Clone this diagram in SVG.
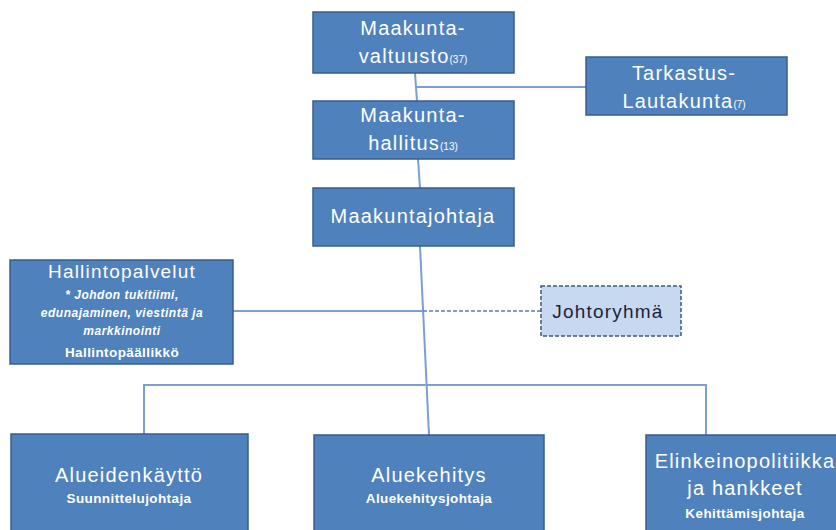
<svg xmlns="http://www.w3.org/2000/svg" width="836" height="530" viewBox="0 0 836 530">
<style>
.box{fill:#4F81BD;stroke:#385D8A;stroke-width:1.5}
.jr{fill:#C6D9F1;stroke:#3D5A80;stroke-width:1.5;stroke-dasharray:4 2}
.t{font-family:"Liberation Sans","DejaVu Sans",sans-serif;fill:#FFFFFF;text-anchor:middle}
.big{font-size:20px;letter-spacing:1.2px}
.mid{font-size:19px;letter-spacing:1.2px}
.sm{font-size:13.5px;font-weight:bold;letter-spacing:0.4px}
.tiny{font-size:10px}
.it{font-size:12px;font-style:italic;font-weight:bold;letter-spacing:0.5px}
.dark{fill:#1F1F3A}
.c{stroke:#7A9FD0;stroke-width:2;fill:none}
.cd{stroke:#5B7FB0;stroke-width:1.5;fill:none;stroke-dasharray:4 2}
</style>
<g id="connectors">
<line class="c" x1="415" y1="73" x2="417" y2="101"/>
<line class="c" x1="415" y1="87" x2="586" y2="87"/>
<line class="c" x1="418" y1="159" x2="420" y2="188"/>
<line class="c" x1="420" y1="246" x2="429" y2="435"/>
<line class="c" x1="233" y1="311" x2="423" y2="311"/>
<line class="cd" x1="423" y1="311" x2="541" y2="311"/>
<polyline class="c" points="144,434 144,385 706,385 706,435"/>
</g>
<g id="valtuusto">
<rect class="box" x="313" y="12" width="201" height="61"/>
<text class="t big" x="413" y="35">Maakunta-</text>
<text class="t big" x="413" y="63">valtuusto<tspan class="tiny" letter-spacing="0">(37)</tspan></text>
</g>
<g id="tarkastus">
<rect class="box" x="586" y="57" width="201" height="58"/>
<text class="t big" x="684" y="80">Tarkastus-</text>
<text class="t big" x="684" y="108">Lautakunta<tspan class="tiny" letter-spacing="0">(7)</tspan></text>
</g>
<g id="hallitus">
<rect class="box" x="313" y="101" width="201" height="58"/>
<text class="t big" x="413" y="122">Maakunta-</text>
<text class="t big" x="413" y="150">hallitus<tspan class="tiny" letter-spacing="0">(13)</tspan></text>
</g>
<g id="johtaja">
<rect class="box" x="313" y="188" width="201" height="58"/>
<text class="t big" x="413" y="223">Maakuntajohtaja</text>
</g>
<g id="hallintopalvelut">
<rect class="box" x="10" y="260" width="223" height="104"/>
<text class="t mid" x="122" y="278">Hallintopalvelut</text>
<text class="t it" x="122" y="299">* Johdon tukitiimi,</text>
<text class="t it" x="122" y="317">edunajaminen, viestintä ja</text>
<text class="t it" x="122" y="335">markkinointi</text>
<text class="t sm" x="122" y="357">Hallintopäällikkö</text>
</g>
<g id="johtoryhma">
<rect class="jr" x="541" y="286" width="140" height="50"/>
<text class="t mid dark" x="608" y="318">Johtoryhmä</text>
</g>
<g id="alueidenkaytto">
<rect class="box" x="11" y="434" width="237" height="100"/>
<text class="t big" x="129" y="482">Alueidenkäyttö</text>
<text class="t sm" x="129" y="503">Suunnittelujohtaja</text>
</g>
<g id="aluekehitys">
<rect class="box" x="314" y="435" width="230" height="100"/>
<text class="t big" x="429" y="482">Aluekehitys</text>
<text class="t sm" x="429" y="503">Aluekehitysjohtaja</text>
</g>
<g id="elinkeino">
<rect class="box" x="646" y="435" width="195" height="100"/>
<text class="t big" x="745" y="468">Elinkeinopolitiikka</text>
<text class="t big" x="745" y="495">ja hankkeet</text>
<text class="t sm" x="745" y="518">Kehittämisjohtaja</text>
</g>
</svg>
